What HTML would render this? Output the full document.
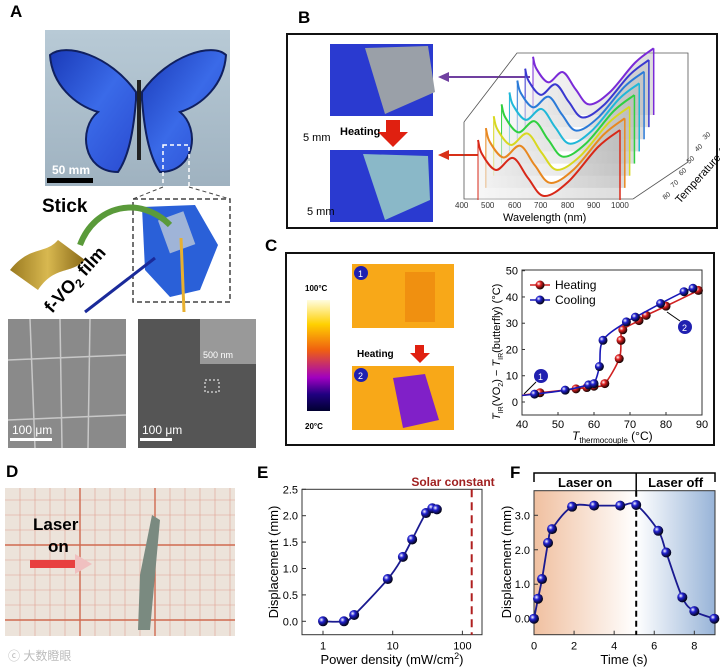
<!DOCTYPE html>
<html><head><meta charset="utf-8">
<style>
body{margin:0;width:720px;height:668px;background:#fff;overflow:hidden;font-family:"Liberation Sans",Arial,sans-serif;position:relative}
.abs{position:absolute;overflow:visible}
.lbl{position:absolute;font-weight:bold;font-size:17px}
svg text{font-family:"Liberation Sans",Arial,sans-serif}
</style></head><body>
<div class="lbl" style="left:10px;top:2px">A</div>
<div class="lbl" style="left:298px;top:8px">B</div>
<div class="lbl" style="left:265px;top:236px">C</div>
<div class="lbl" style="left:6px;top:462px">D</div>
<div class="lbl" style="left:257px;top:463px">E</div>
<div class="lbl" style="left:510px;top:463px">F</div>

<!-- Panel A -->
<svg class="abs" style="left:0;top:0" width="285" height="460">
<defs><linearGradient id="bg1" x1="0" y1="0" x2="0" y2="1"><stop offset="0" stop-color="#b8cad6"/><stop offset="1" stop-color="#9fb2c0"/></linearGradient>
<linearGradient id="wing" x1="0" y1="0" x2="1" y2="1"><stop offset="0" stop-color="#1a3ab8"/><stop offset=".5" stop-color="#3a6ae8"/><stop offset="1" stop-color="#2a4ad0"/></linearGradient>
<linearGradient id="gold" x1="0" y1="0" x2="1" y2="0"><stop offset="0" stop-color="#9a7a20"/><stop offset=".5" stop-color="#d8b850"/><stop offset="1" stop-color="#8a6a18"/></linearGradient></defs>
<rect x="45" y="30" width="185" height="156" fill="url(#bg1)"/>
<path d="M136 92 C110 55 65 42 50 55 C52 85 75 105 98 112 C78 128 82 172 118 172 C130 155 134 125 136 100Z" fill="url(#wing)" stroke="#102060" stroke-width="2"/>
<path d="M142 92 C168 55 213 42 226 55 C224 85 202 105 180 112 C200 128 196 172 160 172 C148 155 144 125 142 100Z" fill="url(#wing)" stroke="#102060" stroke-width="2"/>
<rect x="137" y="80" width="4" height="80" fill="#222"/>
<rect x="47" y="178" width="46" height="5" fill="#000"/>
<text x="52" y="174" font-size="12" font-weight="bold" fill="#fff">50 mm</text>
<rect x="163" y="145" width="26" height="42" fill="none" stroke="#fff" stroke-dasharray="4,3" stroke-width="1.5"/>
<path d="M163 187 L133 199 M189 187 L230 199" stroke="#444" stroke-dasharray="4,3"/>
<rect x="133" y="199" width="97" height="103" fill="none" stroke="#444" stroke-dasharray="5,3" stroke-width="1.5"/>
<path d="M142 207 L195 205 L218 245 L200 290 L170 297 L145 270 Z" fill="#2a60d8"/>
<rect x="163" y="215" width="27" height="35" fill="#9fb4d8" transform="rotate(-20 176 232)"/>
<path d="M80 245 C95 205 140 195 170 225" stroke="#5a9a3a" stroke-width="6" fill="none"/>
<text x="42" y="212" font-size="19" font-weight="bold">Stick</text>
<path d="M10 270 C30 245 45 255 58 240 L85 260 C70 275 55 265 38 290Z" fill="url(#gold)"/>
<text x="52" y="314" font-size="18" font-weight="bold" transform="rotate(-48 52 314)">f-VO<tspan font-size="12" dy="4">2</tspan><tspan dy="-4"> film</tspan></text>
<line x1="155" y1="258" x2="85" y2="312" stroke="#1a2a9a" stroke-width="3"/>
<line x1="181" y1="238" x2="184" y2="312" stroke="#e8b030" stroke-width="3"/>
<rect x="8" y="319" width="118" height="129" fill="#8a8a8a"/>
<path d="M8 360 L126 355 M8 420 L126 415 M30 319 L35 448 M60 319 L62 448 M90 319 L88 448" stroke="#c8c8c8" stroke-width="1.5"/>
<text x="12" y="434" font-size="12" fill="#fff">100 μm</text><rect x="10" y="438" width="42" height="3" fill="#fff"/>
<rect x="138" y="319" width="118" height="129" fill="#555"/>
<rect x="200" y="319" width="56" height="45" fill="#999"/>
<text x="203" y="358" font-size="9" fill="#fff">500 nm</text>
<rect x="205" y="380" width="14" height="12" fill="none" stroke="#fff" stroke-dasharray="2,2"/>
<text x="142" y="434" font-size="12" fill="#fff">100 μm</text><rect x="140" y="438" width="32" height="3" fill="#fff"/>
</svg>

<!-- Panel B -->
<svg id="panelB" class="abs" style="left:285px;top:32px" width="434" height="198">
<defs><linearGradient id="wallg" x1="0" y1="0" x2="1" y2="0"><stop offset="0" stop-color="#eee"/><stop offset="1" stop-color="#bbb"/></linearGradient></defs>
<rect x="2" y="2" width="430" height="194" fill="#fff" stroke="#111" stroke-width="2"/>
<rect x="45" y="12" width="103" height="72" fill="#2a3ad0"/>
<path d="M80 16 L143 14 L150 60 L100 82 Z" fill="#9aa0a8"/>
<text x="18" y="109" font-size="11">5 mm</text>
<rect x="45" y="118" width="103" height="72" fill="#2a3ad0"/>
<path d="M78 122 L143 124 L145 168 L100 188 Z" fill="#8ab8c8"/>
<text x="22" y="183" font-size="11">5 mm</text>
<text x="55" y="103" font-size="11" font-weight="bold">Heating</text>
<path d="M101 88 h14 v12 h8 l-15 15 l-15-15 h8z" fill="#e02010"/>
<path d="M160 45 L245 45" stroke="#7040a0" stroke-width="2"/><path d="M153 45 l11-5 v10z" fill="#7040a0"/>
<path d="M160 123 L193 123" stroke="#d83018" stroke-width="2"/><path d="M153 123 l11-5 v10z" fill="#d83018"/>
<path d="M179 90 L232 21 L403 21 L403 130 L348 167" fill="none" stroke="#555" stroke-width=".8"/>
<path d="M179 90 L179 167 L348 167" fill="none" stroke="#555" stroke-width=".8"/>
<g id="spectra" fill="none" stroke-width="2"></g>
<g font-size="8" fill="#333"><text x="170" y="176">400</text><text x="196" y="176">500</text><text x="223" y="176">600</text><text x="249" y="176">700</text><text x="276" y="176">800</text><text x="302" y="176">900</text><text x="326" y="176">1000</text></g>
<text x="218" y="189" font-size="11">Wavelength (nm)</text>
<g font-size="7" fill="#333"><text x="380" y="168" transform="rotate(-40 380 168)">80</text><text x="388" y="156" transform="rotate(-40 388 156)">70</text><text x="396" y="144" transform="rotate(-40 396 144)">60</text><text x="404" y="132" transform="rotate(-40 404 132)">50</text><text x="412" y="120" transform="rotate(-40 412 120)">40</text><text x="420" y="108" transform="rotate(-40 420 108)">30</text></g>
<text x="395" y="172" font-size="11" transform="rotate(-48 395 172)">Temperature (°C)</text>
</svg>

<!-- Panel C -->
<div class="abs" style="left:285px;top:252px;width:430px;height:194px;border:2px solid #111;box-sizing:border-box"></div>
<svg class="abs" style="left:285px;top:252px" width="200" height="194">
<defs><linearGradient id="cb" x1="0" y1="0" x2="0" y2="1"><stop offset="0" stop-color="#fffde0"/><stop offset=".22" stop-color="#ffd000"/><stop offset=".45" stop-color="#f06010"/><stop offset=".7" stop-color="#a000c0"/><stop offset=".85" stop-color="#200080"/><stop offset="1" stop-color="#000030"/></linearGradient></defs>
<text x="20" y="39" font-size="8" font-weight="bold">100°C</text>
<rect x="22" y="48" width="23" height="111" fill="url(#cb)"/>
<text x="20" y="177" font-size="8" font-weight="bold">20°C</text>
<rect x="67" y="12" width="102" height="64" fill="#f8a818"/>
<rect x="120" y="20" width="30" height="50" fill="#f09010"/>
<circle cx="76" cy="21" r="7" fill="#2020b0"/><text x="73" y="25" font-size="9" fill="#fff">1</text>
<text x="72" y="105" font-size="10" font-weight="bold">Heating</text>
<path d="M130 93 h9 v8 h6 l-10 10 l-10-10 h5z" fill="#e02010"/>
<rect x="67" y="114" width="102" height="64" fill="#f8a818"/>
<path d="M108 126 L140 122 L154 168 L118 176Z" fill="#8020c8"/>
<circle cx="76" cy="123" r="7" fill="#2020b0"/><text x="73" y="127" font-size="9" fill="#fff">2</text>
</svg>
<svg id="chartC" class="abs" style="left:460px;top:252px" width="255" height="194"></svg>

<!-- Panel D -->
<svg class="abs" style="left:0;top:480px" width="245" height="188">
<rect x="5" y="8" width="230" height="148" fill="#ece3da"/>
<g stroke="#e0a090" stroke-width=".6"><path d="M5 20H235M5 35H235M5 50H235M5 65H235M5 80H235M5 95H235M5 110H235M5 125H235M5 140H235"/><path d="M20 8V156M35 8V156M50 8V156M65 8V156M80 8V156M95 8V156M110 8V156M125 8V156M140 8V156M155 8V156M170 8V156M185 8V156M200 8V156M215 8V156M230 8V156"/></g>
<g stroke="#d06a50" stroke-width="1.4"><path d="M5 65H235M5 140H235M80 8V156M155 8V156"/></g>
<path d="M140 95 L152 35 L160 40 L150 150 L138 150Z" fill="#7a8a80"/>
<text x="33" y="50" font-size="17" font-weight="bold">Laser</text><text x="48" y="72" font-size="17" font-weight="bold">on</text>
<path d="M30 80 H75 V88 H30Z" fill="#e84040"/><path d="M75 74 L92 84 L75 94Z" fill="#f0c0c0"/>
<text x="8" y="180" font-size="12" fill="#bbb">ⓒ 大数瞪眼</text>
</svg>

<svg id="chartE" class="abs" style="left:250px;top:460px" width="245" height="208"></svg>
<svg id="chartF" class="abs" style="left:495px;top:460px" width="225" height="208"></svg>

<script>
// ---- Chart C data
const cHeatX=[40,45,55,58,60,63,67,67.5,68,72.5,74.5,80,89];
const cHeatY=[2.5,3.5,5,5.5,6,7,16.5,23.5,27.5,31,33,36.5,42.5];
const cCoolX=[40,43.5,52,58.5,60,61.5,62.5,69,71.5,78.5,85,87.5];
const cCoolY=[2.5,3,4.5,6.5,7,13.5,23.5,30.5,32.3,37.5,42,43.3];
const cXTicks=[40,50,60,70,80,90];
const cYTicks=[0,10,20,30,40,50];
// ---- Chart E data
const eX=[1,2,2.8,8.5,14,19,30,37,43];
const eY=[0,0,0.12,0.8,1.22,1.55,2.05,2.14,2.12];
const eXTicks=[1,10,100];
const eYTicks=[0,0.5,1.0,1.5,2.0,2.5];
const eSolar=[136];
// ---- Chart F data
const fX=[0,0.2,0.4,0.7,0.9,1.9,3,4.3,5.1,6.2,6.6,7.4,8,9];
const fY=[0,0.58,1.15,2.2,2.6,3.25,3.28,3.28,3.3,2.55,1.92,0.62,0.22,0];
const fXTicks=[0,2,4,6,8];
const fYTicks=[0,1,2,3];
const fLaserOff=[5.1];
// ---- Panel B spectra (decorative, back to front)
const bColors=['#7a2ad8','#3a38d0','#2a7ad8','#20b8d8','#30d040','#d8d820','#e88820','#d82818'];

const NS='http://www.w3.org/2000/svg';
function el(p,t,a,txt){const e=document.createElementNS(NS,t);for(const k in a)e.setAttribute(k,a[k]);if(txt!==undefined)e.textContent=txt;p.appendChild(e);return e;}
function smooth(pts){let d='M'+pts[0][0]+' '+pts[0][1];for(let i=0;i<pts.length-1;i++){const p0=pts[i-1]||pts[i],p1=pts[i],p2=pts[i+1],p3=pts[i+2]||p2;const c1x=p1[0]+(p2[0]-p0[0])/6,c1y=p1[1]+(p2[1]-p0[1])/6,c2x=p2[0]-(p3[0]-p1[0])/6,c2y=p2[1]-(p3[1]-p1[1])/6;d+=` C${c1x} ${c1y} ${c2x} ${c2y} ${p2[0]} ${p2[1]}`;}return d;}
function defsBall(svg,id,c){const d=el(svg,'defs',{});const g=el(d,'radialGradient',{id:id,cx:'.35',cy:'.35',r:'.7'});el(g,'stop',{offset:'0','stop-color':'#fff'});el(g,'stop',{offset:'.35','stop-color':c});el(g,'stop',{offset:'1','stop-color':'#000'});}

// Panel B spectra
(function(){const g=document.getElementById('spectra');const n=bColors.length;
for(let i=0;i<n;i++){const t=(n-1-i)/(n-1);const ox=193+55*t, oy=120-85*t;const sc=1-0.15*t;
const base=[[0,-12],[4,2],[18,18],[35,6],[50,26],[66,44],[90,30],[120,-5],[142,-22]];
const pts=base.map(p=>[ox+p[0]*sc,oy+p[1]*sc]);
const fillPts=pts.concat([[pts[pts.length-1][0],oy+50],[ox,oy+50]]);
el(g,'path',{d:smooth(pts)+` L${pts[pts.length-1][0]} ${oy+48} L${ox} ${oy+48} Z`,fill:'url(#wallg)','fill-opacity':.5,stroke:'none'});
el(g,'path',{d:smooth(pts),stroke:bColors[i]});
el(g,'line',{x1:pts[pts.length-1][0],x2:pts[pts.length-1][0],y1:pts[pts.length-1][1],y2:oy+48,stroke:bColors[i],'stroke-width':1.5});
el(g,'line',{x1:ox,x2:ox,y1:pts[0][1],y2:oy+48,stroke:bColors[i],'stroke-width':1});}
})();

// Chart C
(function(){const s=document.getElementById('chartC');defsBall(s,'bR','#e02020');defsBall(s,'bB','#2020d0');
const L=62,R=242,T=18,B=163;const x=v=>L+(v-40)/50*(R-L);const y=v=>150-v/50*(150-18.7);
el(s,'rect',{x:L,y:T,width:R-L,height:B-T,fill:'none',stroke:'#333'});
cXTicks.forEach(t=>{el(s,'line',{x1:x(t),x2:x(t),y1:B,y2:B-3,stroke:'#333'});const e=el(s,'text',{x:x(t),y:B+13,'font-size':11,'text-anchor':'middle'},t);});
cYTicks.forEach(t=>{el(s,'line',{x1:L,x2:L+3,y1:y(t),y2:y(t),stroke:'#333'});const e=el(s,'text',{x:L-4,y:y(t)+4,'font-size':11,'text-anchor':'end'},t);});
[[cHeatX,cHeatY,'#d02020','bR'],[cCoolX,cCoolY,'#1818b8','bB']].forEach(([X,Y,c,g])=>{const pts=X.map((v,i)=>[x(v),y(Y[i])]);const p=el(s,'path',{d:smooth(pts),fill:'none',stroke:c,'stroke-width':1.6});pts.slice(1).forEach(q=>{const m=el(s,'circle',{cx:q[0],cy:q[1],r:4.5,fill:`url(#${g})`});});});
el(s,'line',{x1:70,x2:90,y1:33,y2:33,stroke:'#d02020','stroke-width':1.6});el(s,'circle',{cx:80,cy:33,r:4.5,fill:'url(#bR)'});el(s,'text',{x:95,y:37,'font-size':12},'Heating');
el(s,'line',{x1:70,x2:90,y1:48,y2:48,stroke:'#1818b8','stroke-width':1.6});el(s,'circle',{cx:80,cy:48,r:4.5,fill:'url(#bB)'});el(s,'text',{x:95,y:52,'font-size':12},'Cooling');
el(s,'circle',{cx:81,cy:124,r:7,fill:'#2020b0'});el(s,'text',{x:78,y:128,'font-size':9,fill:'#fff'},'1');el(s,'line',{x1:76,x2:64,y1:130,y2:142,stroke:'#000'});
el(s,'circle',{cx:225,cy:75,r:7,fill:'#2020b0'});el(s,'text',{x:222,y:79,'font-size':9,fill:'#fff'},'2');el(s,'line',{x1:220,x2:207,y1:69,y2:60,stroke:'#000'});
el(s,'text',{x:112,y:188,'font-size':12},'').innerHTML='<tspan font-style="italic">T</tspan><tspan font-size="8" dy="3">thermocouple</tspan><tspan dy="-3"> (°C)</tspan>';
el(s,'text',{x:0,y:0,'font-size':11,transform:'translate(40,168) rotate(-90)'}).innerHTML='<tspan font-style="italic">T</tspan><tspan font-size="7" dy="3">IR</tspan><tspan dy="-3">(VO</tspan><tspan font-size="7" dy="3">2</tspan><tspan dy="-3">) − </tspan><tspan font-style="italic">T</tspan><tspan font-size="7" dy="3">IR</tspan><tspan dy="-3">(butterfly) (°C)</tspan>';
})();

// Chart E
(function(){const s=document.getElementById('chartE');defsBall(s,'bE','#2020d0');
const L=52,R=232,T=29.3,B=174.7;const x=v=>73+Math.log10(v)*69.7;const y=v=>161.3-v/2.5*132;
el(s,'rect',{x:L,y:T,width:R-L,height:B-T,fill:'none',stroke:'#333'});
eXTicks.forEach(t=>{el(s,'line',{x1:x(t),x2:x(t),y1:B,y2:B-4,stroke:'#333'});const e=el(s,'text',{x:x(t),y:B+15,'font-size':11,'text-anchor':'middle'},t);});
eYTicks.forEach(t=>{el(s,'line',{x1:L,x2:L+4,y1:y(t),y2:y(t),stroke:'#333'});const e=el(s,'text',{x:L-4,y:y(t)+4,'font-size':11,'text-anchor':'end'},t.toFixed(1));});
const sx=x(eSolar[0]);const sl=el(s,'line',{x1:sx,x2:sx,y1:T,y2:B,stroke:'#b02020','stroke-width':2,'stroke-dasharray':'8,5'});
el(s,'text',{x:203,y:26,'font-size':12,'font-weight':'bold',fill:'#a02020','text-anchor':'middle'},'Solar constant');
const pts=eX.map((v,i)=>[x(v),y(eY[i])]);const p=el(s,'path',{d:smooth(pts),fill:'none',stroke:'#1a1a90','stroke-width':1.8});
pts.forEach(q=>{const m=el(s,'circle',{cx:q[0],cy:q[1],r:5,fill:'url(#bE)'});});
el(s,'text',{x:142,y:204,'font-size':13,'text-anchor':'middle'}).innerHTML='Power density (mW/cm<tspan font-size="9" dy="-5">2</tspan><tspan dy="5">)</tspan>';
el(s,'text',{x:0,y:0,'font-size':13,'text-anchor':'middle',transform:'translate(28,102) rotate(-90)'},'Displacement (mm)');
})();

// Chart F
(function(){const s=document.getElementById('chartF');defsBall(s,'bF','#2020d0');
const d=el(s,'defs',{});const g1=el(d,'linearGradient',{id:'gOn',x1:0,x2:1,y1:0,y2:0});el(g1,'stop',{offset:0,'stop-color':'#f0c0a0'});el(g1,'stop',{offset:1,'stop-color':'#fff'});
const g2=el(d,'linearGradient',{id:'gOff',x1:0,x2:1,y1:0,y2:0});el(g2,'stop',{offset:0,'stop-color':'#fff'});el(g2,'stop',{offset:1,'stop-color':'#98b4d8'});
const L=39,R=220,T=30.7,B=174.7;const x=v=>39+v*20.04;const y=v=>158.7-v*34.47;
const xo=x(fLaserOff[0]);
el(s,'rect',{x:L,y:T,width:xo-L,height:B-T,fill:'url(#gOn)'});el(s,'rect',{x:xo,y:T,width:R-xo,height:B-T,fill:'url(#gOff)'});
el(s,'rect',{x:L,y:T,width:R-L,height:B-T,fill:'none',stroke:'#333'});
el(s,'path',{d:`M${L} 22 V13 H${R} V22 M${xo} 13 V${T}`,fill:'none',stroke:'#000','stroke-width':1.5});
el(s,'text',{x:(L+xo)/2,y:27,'font-size':13,'font-weight':'bold','text-anchor':'middle'},'Laser on');
el(s,'text',{x:(xo+R)/2,y:27,'font-size':13,'font-weight':'bold','text-anchor':'middle'},'Laser off');
const dl=el(s,'line',{x1:xo,x2:xo,y1:T,y2:B,stroke:'#000','stroke-width':2,'stroke-dasharray':'6,4'});
fXTicks.forEach(t=>{el(s,'line',{x1:x(t),x2:x(t),y1:B,y2:B-4,stroke:'#333'});const e=el(s,'text',{x:x(t),y:B+15,'font-size':11,'text-anchor':'middle'},t);});
fYTicks.forEach(t=>{el(s,'line',{x1:L,x2:L+4,y1:y(t),y2:y(t),stroke:'#333'});const e=el(s,'text',{x:L-4,y:y(t)+4,'font-size':11,'text-anchor':'end'},t.toFixed(1));});
const pts=fX.map((v,i)=>[x(v),y(fY[i])]);const p=el(s,'path',{d:smooth(pts),fill:'none',stroke:'#1a1a90','stroke-width':1.8});
pts.forEach(q=>{const m=el(s,'circle',{cx:q[0],cy:q[1],r:5,fill:'url(#bF)'});});
el(s,'text',{x:129,y:204,'font-size':13,'text-anchor':'middle'},'Time (s)');
el(s,'text',{x:0,y:0,'font-size':13,'text-anchor':'middle',transform:'translate(16,102) rotate(-90)'},'Displacement (mm)');
})();
</script>
</body></html>
